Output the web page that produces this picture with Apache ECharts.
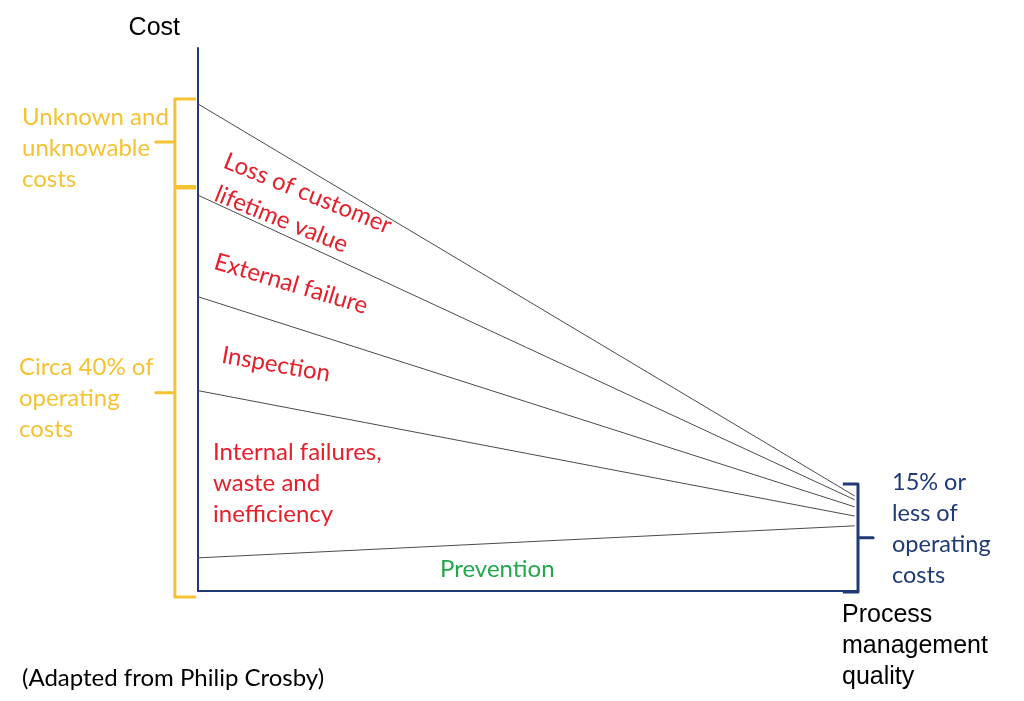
<!DOCTYPE html>
<html>
<head>
<meta charset="UTF-8">
<title>Cost of quality</title>
<script src="https://cdn.jsdelivr.net/npm/echarts@6/dist/echarts.min.js"></script>
<style>
  * { margin: 0; padding: 0; }
  html, body { background: #fff; }
  #main { width: 1024px; height: 701px; }
</style>
</head>
<body>
<div id="main"></div>
<script>
// quality runs 0..100 along x, cost 0..100 up the y axis
var qualityEnds = [0, 99.5];
var lossTop = [89.7, 17.5];
var externalTop = [72.9, 16.8];
var inspectionTop = [54.2, 15.5];
var internalTop = [36.9, 13.8];
var preventionTop = [6.1, 12.0];

// braces, [x, y] in the same units; they sit outside the plot,
// so they go on a second, wider (hidden) grid with matching scale
var unknownBrace = [[-0.3, 90.6], [-3.5, 90.6], [-3.5, 82.7], [-6.4, 82.7], [-3.5, 82.7], [-3.5, 74.5], [-0.3, 74.5]];
var fortyBrace = [[-0.3, 74.2], [-3.5, 74.2], [-3.5, 36.5], [-6.4, 36.5], [-3.5, 36.5], [-3.5, -1.1], [-0.3, -1.1]];
var fifteenBrace = [[97.7, 19.7], [100, 19.7], [100, 9.8], [102.3, 9.8], [100, 9.8], [100, -0.2], [97.7, -0.2]];

var YELLOW = '#F4C232';
var NAVY = '#1F3A75';
var RED = '#E5202A';
var GREEN = '#22A84C';
var CAL = 'Lato, "Open Sans", sans-serif';
var ARIAL = '"Liberation Sans", Arial, sans-serif';

// main plot box in px, and px per unit
var L = 198, R = 166, T = 48, B = 110;
var kx = (1024 - L - R) / 100, ky = (701 - T - B) / 100;

function edge(vals) {
  return {
    type: 'line', symbol: 'none', silent: true,
    lineStyle: { color: '#4a4a4a', width: 1 },
    data: qualityEnds.map(function (q, i) { return [q, vals[i]]; })
  };
}
function brace(pts, color) {
  return {
    type: 'line', symbol: 'none', silent: true, xAxisIndex: 1, yAxisIndex: 1,
    lineStyle: { color: color, width: 3, join: 'round' },
    data: pts
  };
}
function txt(x, y, s, color, size, rot, lh, fam) {
  return {
    type: 'text', x: x, y: y, rotation: rot || 0, silent: true,
    style: {
      text: s, fill: color, fontSize: size, fontFamily: fam || CAL,
      lineHeight: lh || size, verticalAlign: lh ? 'top' : 'middle'
    }
  };
}
function hiddenAxis(extra) {
  var a = {
    type: 'value', show: false, axisLine: { show: false }, axisTick: { show: false },
    axisLabel: { show: false }, splitLine: { show: false }
  };
  for (var k in extra) a[k] = extra[k];
  return a;
}
var deg = Math.PI / 180;
var axisBits = {
  axisLine: { show: true, onZero: false, lineStyle: { color: NAVY, width: 2 } },
  axisTick: { show: false }, axisLabel: { show: false }, splitLine: { show: false }
};

var myChart = echarts.init(document.getElementById('main'));
var option = {
  animation: false,
  grid: [
    { left: L, right: R, top: T, bottom: B },
    { left: L - 10 * kx, right: R - 5 * kx, top: T, bottom: B - 3 * ky }
  ],
  xAxis: [
    Object.assign({ type: 'value', min: 0, max: 100, gridIndex: 0 }, axisBits),
    hiddenAxis({ gridIndex: 1, min: -10, max: 105 })
  ],
  yAxis: [
    Object.assign({
      type: 'value', min: 0, max: 100, gridIndex: 0,
      name: 'Cost', nameLocation: 'end', nameGap: 20,
      nameTextStyle: { color: '#000', fontSize: 25, fontFamily: ARIAL,
        align: 'right', verticalAlign: 'middle', padding: [0, 18, 0, 0] }
    }, axisBits),
    hiddenAxis({ gridIndex: 1, min: -3, max: 100 })
  ],
  series: [
    edge(lossTop), edge(externalTop), edge(inspectionTop), edge(internalTop), edge(preventionTop),
    brace(unknownBrace, YELLOW), brace(fortyBrace, YELLOW), brace(fifteenBrace, NAVY)
  ],
  graphic: [
    txt(22, 101.5, 'Unknown and\nunknowable\ncosts', YELLOW, 24, 0, 31),
    txt(19, 351.5, 'Circa 40% of\noperating\ncosts', YELLOW, 24, 0, 31),
    txt(225, 160, 'Loss of customer', RED, 24, -22 * deg),
    txt(216, 193, 'lifetime value', RED, 24, -22 * deg),
    txt(215, 261, 'External failure', RED, 24, -16.7 * deg),
    txt(222, 355, 'Inspection', RED, 24, -10 * deg),
    txt(213, 437, 'Internal failures,\nwaste and\ninefficiency', RED, 24, 0, 31),
    txt(440, 569, 'Prevention', GREEN, 24),
    txt(892, 467.5, '15% or\nless of\noperating\ncosts', NAVY, 23.5, 0, 30.7),
    txt(842, 599.5, 'Process\nmanagement\nquality', '#000', 25, 0, 31, ARIAL),
    txt(22, 678, '(Adapted from Philip Crosby)', '#000', 24)
  ]
};
myChart.setOption(option);
</script>
</body>
</html>
